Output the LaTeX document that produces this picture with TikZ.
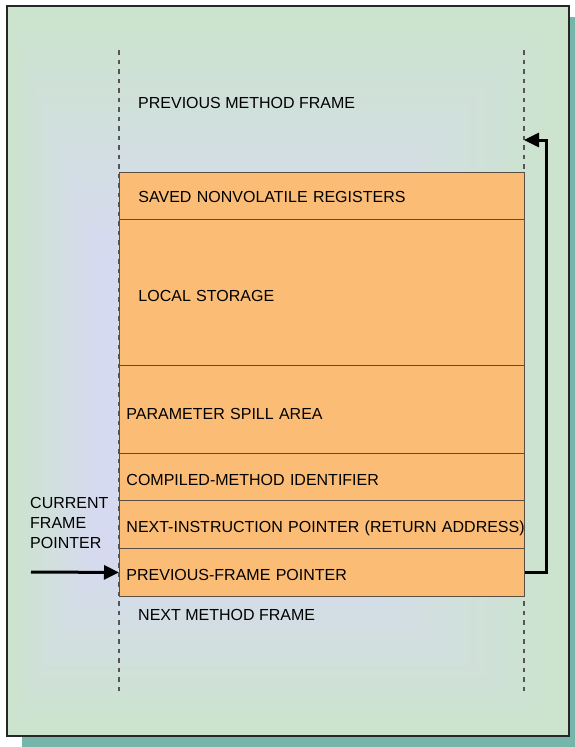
\documentclass[tikz,border=0pt]{standalone}
\usepackage{fontspec}
\setmainfont{Liberation Sans}
\usetikzlibrary{arrows.meta}
\definecolor{bggreen}{RGB}{204,228,204}
\definecolor{bglav}{RGB}{214,218,240}
\definecolor{boxfill}{RGB}{251,188,117}
\definecolor{boxline}{RGB}{90,78,66}
\definecolor{shadowteal}{RGB}{118,181,169}
\definecolor{dashgrey}{RGB}{85,85,85}
\newcommand{\lbl}{\fontsize{16}{20}\selectfont}
\tikzset{
  rowbox/.style={draw=boxline, line width=0.9pt, fill=boxfill, anchor=north west,
    minimum width=405pt, inner ysep=0pt, align=left, font=\lbl,
    text height=16.5pt, text depth=0pt},
  indented/.style={inner xsep=19pt, text width=367pt},
  plain/.style={inner xsep=7pt, text width=391pt},
  lbltext/.style={anchor=west, inner sep=0pt, font=\lbl, align=left},
  guide/.style={draw=dashgrey, line width=1.1pt, dash pattern=on 4.5pt off 5pt},
  ptr/.style={line width=3pt, -{Triangle[length=15pt,width=14pt]}}
}
\begin{document}
\begin{tikzpicture}[x=1pt,y=-1pt]
\useasboundingbox (0,0) rectangle (575,747);
% shadow
\fill[shadowteal] (22,17) rectangle (584,747);
% background gradient (nested rectangles)
\foreach \i in {0,...,30}{
  \pgfmathsetmacro{\t}{\i/30}
  \pgfmathsetmacro{\pc}{100*\t}
  \pgfmathsetmacro{\xa}{7+\t*(95-7)}
  \pgfmathsetmacro{\ya}{6+\t*(250-6)}
  \pgfmathsetmacro{\xb}{569+\t*(320-569)}
  \pgfmathsetmacro{\yb}{736+\t*(560-736)}
  \fill[bglav!\pc!bggreen] (\xa,\ya) rectangle (\xb,\yb);
}
\draw[black!85, line width=1.5pt] (7,6) rectangle (569,736);
% dashed guides
\coordinate (gl1) at (119,50);
\coordinate (gl2) at (119,692);
\coordinate (gr1) at (524,50);
\coordinate (gr2) at (524,692);
\draw[guide] (gl1) -- (gl2);
\draw[guide] (gr1) -- (gr2);
% rows
\node[rowbox, indented, minimum height=47pt, text height=12.5pt]  (r1) at (119,172) {SAVED NONVOLATILE REGISTERS};
\node[rowbox, indented, minimum height=146pt, text height=18pt] (r2) at (119,219) {LOCAL STORAGE};
\node[rowbox, plain, minimum height=88pt, text height=19.5pt]     (r3) at (119,365) {PARAMETER SPILL AREA};
\node[rowbox, plain, minimum height=47pt]     (r4) at (119,453) {COMPILED-METHOD IDENTIFIER};
\node[rowbox, plain, minimum height=48pt]     (r5) at (119,500) {\mbox{NEXT-INSTRUCTION POINTER (RETURN ADDRESS)}};
\node[rowbox, plain, minimum height=48pt, text height=15.5pt]     (r6) at (119,548) {PREVIOUS-FRAME POINTER};
% labels
\node[lbltext] (prev) at (138,103) {PREVIOUS METHOD FRAME};
\node[lbltext] (next) at (138,615) {NEXT METHOD FRAME};
\node[lbltext, anchor=north west] (cfp) at (30,497) {CURRENT\\FRAME\\POINTER};
% pointers
\coordinate (cfpstart) at (31,572);
\coordinate (rettip) at (524,140);
\draw[ptr] (cfpstart) -- (r6.west);
\draw[ptr, line join=miter] (r6.east) -| (546,140) -- (rettip);
\end{tikzpicture}
\end{document}
